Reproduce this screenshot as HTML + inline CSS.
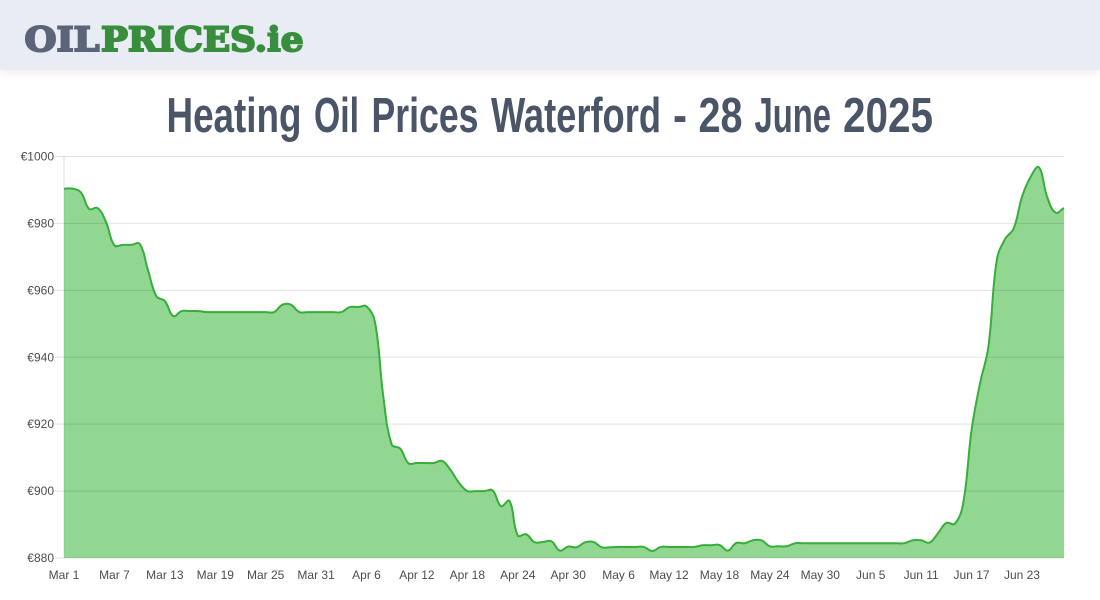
<!DOCTYPE html>
<html lang="en">
<head>
<meta charset="utf-8">
<title>Heating Oil Prices Waterford - 28 June 2025</title>
<style>
html,body{margin:0;padding:0;background:#fff;width:1100px;height:600px;overflow:hidden;font-family:"Liberation Sans",Arial,sans-serif}
#site-header{position:absolute;left:0;top:0;width:1100px;height:70px;background:#e9ecf4;box-shadow:0 3px 8px rgba(0,0,0,.07)}
#page{position:absolute;left:0;top:0;width:1100px;height:600px}
.tw{font-family:"Liberation Sans",sans-serif;font-weight:700;font-size:49px;fill:#4a5568}
.lg{font-family:"DejaVu Serif",serif;font-weight:700;font-size:34px;filter:blur(.35px)}
</style>
</head>
<body>
<div id="site-header"></div>
<svg id="page" width="1100" height="600" viewBox="0 0 1100 600" xmlns="http://www.w3.org/2000/svg">
  <g>
    <text class="lg" x="24.5" y="51" fill="#5b6479" stroke="#5b6479" stroke-width="2" textLength="75" lengthAdjust="spacingAndGlyphs">OIL</text>
    <text class="lg" x="101" y="51" fill="#388e3c" stroke="#388e3c" stroke-width="2" textLength="202.5" lengthAdjust="spacingAndGlyphs">PRICES.ie</text>
  </g>
  <g>
    <text class="tw" x="166.5" y="132" textLength="135" lengthAdjust="spacingAndGlyphs">Heating</text>
    <text class="tw" x="314" y="132" textLength="45" lengthAdjust="spacingAndGlyphs">Oil</text>
    <text class="tw" x="371.5" y="132" textLength="107" lengthAdjust="spacingAndGlyphs">Prices</text>
    <text class="tw" x="491" y="132" textLength="170" lengthAdjust="spacingAndGlyphs">Waterford</text>
    <text class="tw" x="673" y="132" textLength="14" lengthAdjust="spacingAndGlyphs">-</text>
    <text class="tw" x="698.5" y="132" textLength="44" lengthAdjust="spacingAndGlyphs">28</text>
    <text class="tw" x="754.5" y="132" textLength="76.5" lengthAdjust="spacingAndGlyphs">June</text>
    <text class="tw" x="843" y="132" textLength="90" lengthAdjust="spacingAndGlyphs">2025</text>
  </g>
  <g id="chart"></g>
</svg>
<script>
var values = [
  990.4,990.4,989.3,984.3,984.6,980.4,973.4,973.6,973.6,973.9,
  966.0,958.2,956.8,952.3,953.8,953.8,953.8,953.5,953.5,953.5,
  953.5,953.5,953.5,953.5,953.5,953.5,955.7,955.7,953.5,953.5,
  953.5,953.5,953.5,953.5,955.0,955.0,955.2,950.6,928.2,913.9,
  912.7,908.3,908.4,908.4,908.4,909.0,906.3,902.5,900.0,900.0,
  900.0,900.2,895.5,897.1,886.7,887.1,884.7,884.8,885.0,882.2,
  883.4,883.2,884.7,884.8,883.2,883.2,883.3,883.3,883.3,883.3,
  882.1,883.3,883.3,883.3,883.3,883.3,883.8,883.8,883.9,882.2,
  884.5,884.4,885.3,885.3,883.5,883.5,883.5,884.4,884.4,884.4,
  884.4,884.4,884.4,884.4,884.4,884.4,884.4,884.4,884.4,884.4,
  884.4,885.3,885.3,884.6,887.4,890.5,890.2,896.3,918.2,932.1,
  943.1,969.0,975.4,978.4,987.9,993.8,996.8,987.9,983.2,984.6
];
var xTickLabels = ["Mar 1","Mar 7","Mar 13","Mar 19","Mar 25","Mar 31","Apr 6","Apr 12","Apr 18","Apr 24","Apr 30","May 6","May 12","May 18","May 24","May 30","Jun 5","Jun 11","Jun 17","Jun 23"];
var yTickValues = [880,900,920,940,960,980,1000];
var xTickStep = 6;
var yMin = 880;
var yMax = 1000;

var plotLeft = 64, plotRight = 1064, plotTop = 156.5, plotBottom = 558;
var svgNS = "http://www.w3.org/2000/svg";
var chart = document.getElementById("chart");

function xScale(i){ return plotLeft + i * (plotRight - plotLeft) / (values.length - 1); }
function yScale(v){ return plotBottom - (v - yMin) * (plotBottom - plotTop) / (yMax - yMin); }
function make(tag, attrs){
  var el = document.createElementNS(svgNS, tag);
  for (var k in attrs) el.setAttribute(k, attrs[k]);
  return el;
}
function linePath(){
  var tension = 0.4;
  var pts = values.map(function(v, i){ return {x: xScale(i), y: yScale(v)}; });
  var d = "M" + pts[0].x.toFixed(2) + " " + pts[0].y.toFixed(2);
  var cps = pts.map(function(p, i){
    var a = pts[Math.max(i - 1, 0)], b = pts[Math.min(i + 1, pts.length - 1)];
    var d01 = Math.hypot(p.x - a.x, p.y - a.y), d12 = Math.hypot(b.x - p.x, b.y - p.y);
    var sum = (d01 + d12) || 1;
    var fa = tension * d01 / sum, fb = tension * d12 / sum;
    return {px: p.x - fa * (b.x - a.x), py: p.y - fa * (b.y - a.y), nx: p.x + fb * (b.x - a.x), ny: p.y + fb * (b.y - a.y)};
  });
  for (var i = 1; i < pts.length; i++){
    d += "C" + cps[i-1].nx.toFixed(2) + " " + cps[i-1].ny.toFixed(2) + " " + cps[i].px.toFixed(2) + " " + cps[i].py.toFixed(2) + " " + pts[i].x.toFixed(2) + " " + pts[i].y.toFixed(2);
  }
  return d;
}

var yAxis = make("line", {x1: plotLeft, x2: plotLeft, y1: plotTop, y2: plotBottom, stroke: "#e2e2e2", "stroke-width": 1});


chart.appendChild(yAxis);

var curve = linePath();
var area = make("path", {d: curve + "L" + plotRight + " " + plotBottom + "L" + plotLeft + " " + plotBottom + "Z", fill: "rgba(72,188,73,0.6)", stroke: "none"});


chart.appendChild(area);

yTickValues.forEach(function(v){
  var y = yScale(v);
  var grid = make("line", {x1: plotLeft - 10, x2: plotRight, y1: y, y2: y, stroke: "rgba(0,0,0,0.11)", "stroke-width": 1});
  
  
  chart.appendChild(grid);
  var label = make("text", {x: plotLeft - 10, y: y + 4, "text-anchor": "end", "font-size": 12, fill: "#4d4d4d", "font-family": "'Liberation Sans',sans-serif"});
  label.textContent = "\u20AC" + v;
  
  
  chart.appendChild(label);
});

xTickLabels.forEach(function(t, n){
  var label = make("text", {x: xScale(n * xTickStep), y: 579, "text-anchor": "middle", "font-size": 12, fill: "#4d4d4d", "font-family": "'Liberation Sans',sans-serif"});
  label.textContent = t;
  
  
  chart.appendChild(label);
});

var line = make("path", {d: curve, fill: "none", stroke: "#36ae3a", "stroke-width": 2});


chart.appendChild(line);
</script>
</body>
</html>
